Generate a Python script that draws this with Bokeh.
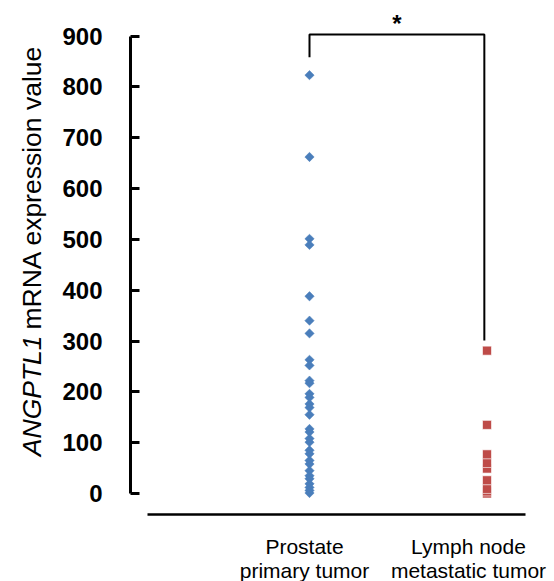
import numpy as np
from bokeh.plotting import figure
from bokeh.layouts import row, column
from bokeh.models import Range1d, LinearAxis, FixedTicker, Label
from bokeh.embed import file_html
from bokeh.resources import INLINE

# ---- data ----
category_lines = [["Prostate", "primary tumor"], ["Lymph node", "metastatic tumor"]]
category_pos = [0.5, 1.5]
prostate_values = [823, 662, 501, 489, 388, 340, 315, 263, 252, 222, 217, 196, 189,
                   176, 169, 155, 127, 121, 108, 101, 85, 78, 65, 58, 45, 35, 29, 19,
                   12, 6, 1]
lymph_values = [0, 4, 9, 26, 49, 60, 77, 135, 281]
y_ticks = [0, 100, 200, 300, 400, 500, 600, 700, 800, 900]
bracket_y = [858, 903, 903, 301]
significance = "*"
y_label_italic = "ANGPTL1"
y_label_rest = "mRNA expression value"

# ---- geometry (global page pixels) ----
W, H = 554, 581
LEFT_W = 52                 # width of the strip holding the y title
MAIN_H = 520                # height of the main figure
FRAME_L, FRAME_R, FRAME_T, FRAME_B = 130, 554, 0, 514
Y0_PX, Y900_PX = 493.0, 35.5
ppu_y = (Y0_PX - Y900_PX) / 900.0
y_start = -(FRAME_B - Y0_PX) / ppu_y
y_end = (Y0_PX - FRAME_T) / ppu_y
X1_PX, X2_PX = 309.0, 486.5
ppu_x = (X2_PX - X1_PX) / (category_pos[1] - category_pos[0])
x_start = category_pos[0] - (X1_PX - FRAME_L) / ppu_x
x_end = x_start + (FRAME_R - FRAME_L) / ppu_x


def px_y(py):
    return (Y0_PX - py) / ppu_y


def px_x(px):
    return x_start + (px - FRAME_L) / ppu_x


def blank(width, height, x_range, y_range):
    f = figure(width=width, height=height, x_range=x_range, y_range=y_range,
               x_axis_type=None, y_axis_type=None, toolbar_location=None,
               output_backend="svg", min_border=0, title=None)
    f.outline_line_color = None
    f.background_fill_color = "white"
    f.border_fill_color = "white"
    return f


# ---- main plot ----
p = figure(width=W - LEFT_W, height=MAIN_H, x_range=Range1d(x_start, x_end),
           y_range=Range1d(y_start, y_end), x_axis_type=None, y_axis_type=None,
           toolbar_location=None, output_backend="svg",
           min_border_left=FRAME_L - LEFT_W, min_border_right=W - FRAME_R,
           min_border_top=FRAME_T, min_border_bottom=MAIN_H - FRAME_B, title=None)
p.outline_line_color = None
p.background_fill_color = "white"
p.border_fill_color = "white"

yaxis = LinearAxis(bounds=(0, 900), ticker=FixedTicker(ticks=y_ticks))
yaxis.major_tick_in = 9
yaxis.major_tick_out = 0
yaxis.minor_tick_line_color = None
yaxis.axis_line_width = 3
yaxis.major_tick_line_width = 3
yaxis.axis_line_color = "black"
yaxis.major_tick_line_color = "black"
yaxis.major_label_text_font = "Liberation Sans"
yaxis.major_label_text_font_style = "bold"
yaxis.major_label_text_font_size = "24px"
yaxis.major_label_text_color = "black"
yaxis.major_label_standoff = 28
p.add_layout(yaxis, "left")

xaxis = LinearAxis(bounds=(px_x(147), px_x(525)), ticker=FixedTicker(ticks=[]))
xaxis.axis_line_width = 2.5
xaxis.axis_line_color = "black"
xaxis.major_tick_in = 0
xaxis.major_tick_out = 0
xaxis.major_label_standoff = 0
xaxis.major_tick_line_color = None
xaxis.minor_tick_line_color = None
xaxis.major_label_text_font_size = "0px"
p.add_layout(xaxis, "below")

# points
p.scatter(x=[category_pos[0]] * len(prostate_values), y=prostate_values, marker="square",
          angle=np.pi / 4, size=6.6, fill_color="#4A7EBB", line_color="#4A7EBB", line_width=0.5)
p.scatter(x=[category_pos[1]] * len(lymph_values), y=lymph_values, marker="square",
          size=9, fill_color="#BE4B48", line_color="white", line_width=0.6)

# significance bracket
bx_left = category_pos[0]
bx_right = category_pos[1] - 0.015
p.line(x=[bx_left, bx_left, bx_right, bx_right], y=bracket_y, line_width=2, line_color="black")
p.add_layout(Label(x=(bx_left + bx_right) / 2, y=px_y(23), text=significance, text_align="center",
                   text_baseline="alphabetic", text_font="Liberation Sans", text_font_size="24px",
                   text_font_style="bold", text_color="black"))

# ---- y title strip (data units = page pixels) ----
left = blank(LEFT_W, MAIN_H, Range1d(0, LEFT_W), Range1d(MAIN_H, 0))
fs = 26.5
left.add_layout(Label(x=31.5, y=461, text=y_label_italic, angle=np.pi / 2,
                      text_align="left", text_baseline="alphabetic", text_font="Liberation Sans",
                      text_font_size=f"{fs}px", text_font_style="italic", text_color="black"))
left.add_layout(Label(x=31.5, y=461 - (4.557 + 0.278) * fs, text=y_label_rest,
                      angle=np.pi / 2, text_align="left", text_baseline="alphabetic",
                      text_font="Liberation Sans", text_font_size=f"{fs}px", text_color="black"))

# ---- category label strip (data units = page pixels) ----
bottom = blank(W, H - MAIN_H, Range1d(0, W), Range1d(H, MAIN_H))
label_centers = [304, 468]
baselines = [546, 570]
for cx, lines in zip(label_centers, category_lines):
    for by, line in zip(baselines, lines):
        bottom.add_layout(Label(x=cx, y=by, text=line, text_align="center",
                                text_baseline="alphabetic", text_font="Liberation Sans",
                                text_font_size="21px", text_color="black"))

layout = column(row(left, p, spacing=0), bottom, spacing=0)
open("out.html", "w").write(file_html(layout, INLINE))
